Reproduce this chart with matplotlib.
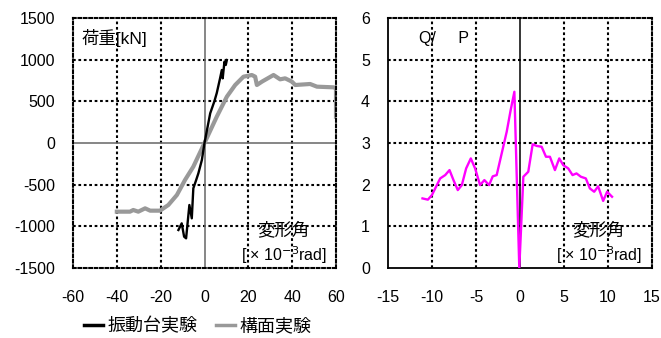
import numpy as np
import matplotlib.pyplot as plt
from matplotlib.lines import Line2D

plt.rcParams['font.family'] = ['Liberation Sans', 'Noto Sans CJK JP', 'DejaVu Sans']
plt.rcParams['axes.unicode_minus'] = False

# 振動台実験 (shake table test): drift angle [x10^-3 rad], load [kN]
shake_x = [-11.9, -10.4, -9.3, -8.4, -6.9, -5.8, -5.1, -3.8, -2.8, -2.0,
           -1.2, 0.0, 2.6, 4.5, 5.6, 7.1, 7.9, 8.3, 9.1, 9.7, 10.2]
shake_y = [-1044, -964, -1124, -1144, -744, -904, -544, -444, -364, -284,
           -204, 0, 356, 500, 600, 776, 876, 776, 976, 936, 996]

# 構面実験 (frame test)
frame_x = [-40.0, -34.0, -32.5, -30.2, -27.1, -24.8, -20.3, -16.5, -12.6,
           -8.9, -5.1, 0.0, 5.6, 10.2, 14.0, 17.8, 21.6, 23.1, 23.9, 26.2,
           31.5, 34.5, 36.8, 39.9, 41.4, 48.2, 51.3, 58.9, 60.0, 60.0]
frame_y = [-824, -824, -804, -824, -784, -812, -812, -744, -624,
           -444, -284, 0, 316, 556, 696, 796, 816, 796, 696, 736,
           816, 764, 776, 736, 696, 708, 676, 668, 656, 316]

# Q/P ratio
ratio_x = [-11.08, -10.47, -10.01, -9.07, -8.50, -8.01, -7.56, -7.07, -6.61,
           -6.12, -5.59, -5.10, -4.54, -4.05, -3.51, -3.10, -2.65, -2.08,
           -1.51, -1.06, -0.64, -0.08, 0.38, 0.94, 1.44, 1.89, 2.46, 2.95,
           3.40, 3.97, 4.46, 4.91, 5.48, 5.97, 6.42, 6.92, 7.48, 7.94, 8.43,
           8.88, 9.45, 9.90, 10.46]
ratio_y = [1.67, 1.64, 1.75, 2.15, 2.23, 2.35, 2.11, 1.87, 1.99, 2.39, 2.63,
           2.39, 1.99, 2.11, 1.99, 2.20, 2.23, 2.75, 3.27, 3.79, 4.23, 0.0,
           2.19, 2.31, 2.97, 2.93, 2.91, 2.67, 2.67, 2.35, 2.63, 2.47, 2.39,
           2.23, 2.27, 2.19, 2.15, 1.91, 1.83, 1.96, 1.61, 1.83, 1.71]

left_xticks = [-60, -40, -20, 0, 20, 40, 60]
left_yticks = [-1500, -1000, -500, 0, 500, 1000, 1500]
right_xticks = [-15, -10, -5, 0, 5, 10, 15]
right_yticks = [0, 1, 2, 3, 4, 5, 6]

fs = 11.5
fs_j = 12.5
W, H = 661, 338
fig = plt.figure(figsize=(W / 100, H / 100), dpi=100)
ax1 = fig.add_axes([73 / W, 1 - 268 / H, 263 / W, 250 / H])
ax2 = fig.add_axes([388 / W, 1 - 268 / H, 264 / W, 250 / H])

dots = (0, (1.3, 1.3))


def style_axes(ax, xticks, yticks, solid_left_bottom):
    ax.set_xticks(xticks)
    ax.set_yticks(yticks)
    ax.set_xlim(xticks[0], xticks[-1])
    ax.set_ylim(yticks[0], yticks[-1])
    ax.tick_params(axis='y', length=0, labelsize=fs, pad=13)
    ax.tick_params(axis='x', length=0, labelsize=fs, pad=16)
    for x in xticks[1:-1]:
        if x != 0:
            ax.axvline(x, color='black', ls=dots, lw=1.5, zorder=1)
    for y in yticks[1:-1]:
        if y != 0:
            ax.axhline(y, color='black', ls=dots, lw=1.5, zorder=1)
    for name, sp in ax.spines.items():
        if solid_left_bottom and name in ('left', 'bottom'):
            sp.set_linewidth(1.3)
        else:
            sp.set_linestyle(dots)
            sp.set_linewidth(1.5)


style_axes(ax1, left_xticks, left_yticks, False)
ax1.axvline(0, color='#666666', lw=1.1, zorder=1)
ax1.axhline(0, color='#666666', lw=1.1, zorder=1)
ax1.plot(frame_x, frame_y, color='#999999', lw=3.0, zorder=2)
ax1.plot(shake_x, shake_y, color='black', lw=1.7, zorder=3)
ax1.text(0.034, 0.92, '荷重[kN]', transform=ax1.transAxes, fontsize=fs_j,
         va='center', ha='left')
ax1.text(0.80, 0.152, '変形角', transform=ax1.transAxes, fontsize=fs_j,
         va='center', ha='center')
ax1.text(0.966, 0.052, r'[ × 10$^{-3}$rad]', transform=ax1.transAxes,
         fontsize=fs, va='center', ha='right')

style_axes(ax2, right_xticks, right_yticks, True)
ax2.axvline(0, color='black', lw=1.1, zorder=1)
ax2.plot(ratio_x, ratio_y, color='#ff00ff', lw=1.7, zorder=3)
ax2.text(0.117, 0.92, 'Q/     P', transform=ax2.transAxes, fontsize=fs,
         va='center', ha='left')
ax2.text(0.797, 0.152, '変形角', transform=ax2.transAxes, fontsize=fs_j,
         va='center', ha='center')
ax2.text(0.962, 0.052, r'[ × 10$^{-3}$rad]', transform=ax2.transAxes,
         fontsize=fs, va='center', ha='right')

handles = [Line2D([], [], color='black', lw=2.5),
           Line2D([], [], color='#999999', lw=2.5)]
fig.legend(handles, ['振動台実験', '構面実験'], loc='center left',
           bbox_to_anchor=(84 / W, 1 - 327 / H), ncol=2, frameon=False,
           fontsize=13, handlelength=1.05, handletextpad=0.25,
           columnspacing=1.05, borderpad=0.0, borderaxespad=0.0)

fig.savefig('out.png', dpi=100)
